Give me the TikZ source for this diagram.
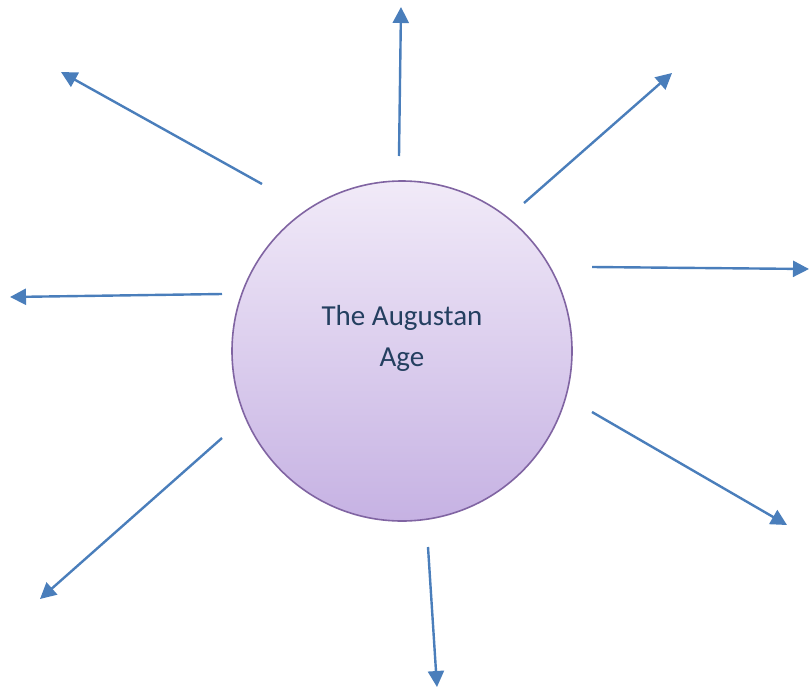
\documentclass[tikz,border=0pt]{standalone}
\usepackage{fontspec}
\setmainfont{Carlito}
\definecolor{arrowblue}{HTML}{4A7EBB}
\definecolor{ringpurple}{HTML}{8064A2}
\definecolor{lilactop}{HTML}{F1EAF8}
\definecolor{lilacbottom}{HTML}{C6B2E3}
\definecolor{textnavy}{HTML}{243F60}
\usetikzlibrary{arrows.meta}

\begin{document}
\begin{tikzpicture}[x=1pt,y=-1pt,
  arr/.style={-{Triangle[length=16pt,width=16pt]},line width=2.4pt,draw=arrowblue},
  hub/.style={circle,draw=ringpurple,line width=1.6pt,top color=lilactop,bottom color=lilacbottom,minimum size=340pt,inner sep=0pt,align=center,text=textnavy,font=\fontsize{29}{41}\selectfont}]
\useasboundingbox (0,0) rectangle (810,688);
\node[hub] (age) at (402,351) {The Augustan\\Age\\[-10pt]};
% spokes: start / tip
\foreach \i/\sx/\sy/\ex/\ey in {1/399/156/401/7, 2/524/203/672/73, 3/592/267/809/269, 4/592/412/787/525,
                               5/428/547/437/687, 6/222/438/40/599, 7/222/294/10/297, 8/262/184/61/72}{
  \coordinate (s\i) at (\sx,\sy);
  \coordinate (e\i) at (\ex,\ey);
  \draw[arr] (s\i) -- (e\i);
}
\end{tikzpicture}
\end{document}
